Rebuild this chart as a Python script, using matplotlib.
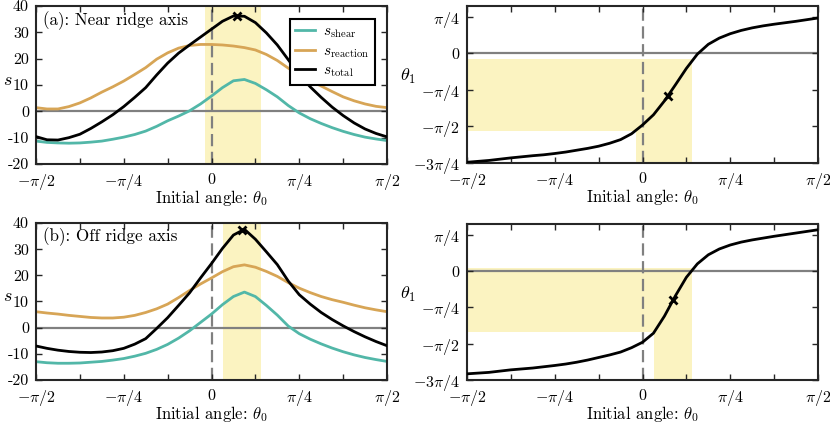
import numpy as np
import matplotlib
matplotlib.use("Agg")
import matplotlib.pyplot as plt

plt.rcParams['font.family'] = 'serif'
plt.rcParams['font.serif'] = ['cmr10']
plt.rcParams['mathtext.fontset'] = 'cm'
plt.rcParams['axes.formatter.use_mathtext'] = True

# ---------------- data (theta0 in units of pi/16) ----------------
u_grid = [-8, -7.5, -7, -6.5, -6, -5.5, -5, -4.5, -4, -3.5, -3, -2.5, -2, -1.5, -1, -0.5,
          0, 0.5, 1, 1.5, 2, 2.5, 3, 3.5, 4, 4.5, 5, 5.5, 6, 6.5, 7, 7.5, 8]

shear_a = [-11.3, -11.8, -12.0, -12.1, -12.0, -11.7, -11.3, -10.6, -9.8, -8.8, -7.5, -5.7,
           -3.6, -1.8, 0.2, 2.8, 5.8, 9.0, 11.6, 12.1, 10.6, 8.2, 5.5, 2.2, -0.6, -2.8,
           -4.6, -6.2, -7.6, -8.8, -9.8, -10.5, -11.1]
reaction_a = [1.4, 0.9, 0.9, 1.8, 3.2, 5.1, 7.3, 9.3, 11.5, 14.0, 16.6, 19.8, 22.2, 24.0,
              25.0, 25.4, 25.4, 25.2, 24.8, 24.2, 23.3, 21.6, 19.3, 16.4, 13.8, 11.6, 9.6,
              7.5, 5.5, 4.0, 2.8, 1.9, 1.4]
total_a = [-9.6, -10.8, -10.9, -10.0, -8.7, -6.5, -4.0, -1.3, 1.8, 5.3, 9.0, 13.8, 18.3,
           22.1, 25.2, 28.2, 31.2, 34.2, 36.2, 36.1, 33.7, 29.8, 25.2, 19.6, 14.0, 9.3, 5.3,
           1.6, -1.6, -4.4, -6.7, -8.4, -9.7]

shear_b = [-13.0, -13.4, -13.6, -13.6, -13.5, -13.2, -12.9, -12.4, -11.8, -10.9, -9.8, -8.3,
           -6.4, -4.0, -1.2, 2.0, 5.2, 8.8, 11.9, 13.6, 11.9, 8.5, 4.8, 0.6, -2.3, -4.4,
           -6.2, -7.8, -9.2, -10.4, -11.4, -12.2, -12.9]
reaction_b = [6.1, 5.6, 5.2, 4.7, 4.3, 3.9, 3.7, 3.7, 4.0, 4.7, 5.8, 7.2, 9.0, 11.5, 14.2,
              16.7, 19.0, 21.4, 23.3, 24.0, 23.1, 21.5, 19.6, 17.2, 15.1, 13.4, 11.9, 10.7,
              9.7, 8.6, 7.6, 6.8, 6.1]
total_b = [-7.0, -7.9, -8.6, -9.1, -9.4, -9.5, -9.3, -8.8, -7.9, -6.3, -4.2, -0.3, 3.8, 8.5,
           13.3, 19.0, 24.5, 30.3, 35.4, 37.6, 33.8, 29.0, 24.1, 17.8, 12.6, 9.0, 5.8, 3.1,
           0.7, -1.5, -3.5, -5.3, -6.9]

# theta1 in units of pi/4
theta1_a = [-2.98, -2.955, -2.93, -2.895, -2.86, -2.83, -2.80, -2.775, -2.74, -2.70, -2.65,
            -2.60, -2.54, -2.46, -2.36, -2.20, -1.96, -1.68, -1.30, -0.86, -0.41, -0.02,
            0.25, 0.42, 0.54, 0.63, 0.70, 0.755, 0.80, 0.84, 0.88, 0.925, 0.97]
theta1_b = [-2.83, -2.81, -2.79, -2.755, -2.72, -2.695, -2.67, -2.635, -2.60, -2.56, -2.51,
            -2.45, -2.38, -2.31, -2.23, -2.11, -1.96, -1.71, -1.24, -0.68, -0.17, 0.20,
            0.45, 0.61, 0.72, 0.80, 0.86, 0.91, 0.96, 1.005, 1.05, 1.095, 1.14]

# optimum markers (theta0 [rad], s, theta1 [rad])
mark_a = (0.23, 36.3, -0.92)
mark_b = (0.273, 37.5, -0.62)

# shaded ranges: theta0 range [rad], theta1 range [rad]
shade0_a = (-0.06, 0.445)
shade1_a = (-1.678, -0.114)
shade0_b = (0.10, 0.445)
shade1_b = (-1.32, 0.074)

panel_titles = ['(a): Near ridge axis', '(b): Off ridge axis']
s_ticks = [-20, -10, 0, 10, 20, 30, 40]
s_ticklabels = ['-20', '-10', '0', '10', '20', '30', '40']
x_ticklabels = [r'$-\pi/2$', r'$-\pi/4$', r'$0$', r'$\pi/4$', r'$\pi/2$']
t_ticklabels = [r'$-3\pi/4$', r'$-\pi/2$', r'$-\pi/4$', r'$0$', r'$\pi/4$']

# ---------------- style ----------------
C_SHEAR = '#52B7A8'
C_REACT = '#D7A556'
C_TOTAL = '#000000'
C_SHADE = '#FBF3C1'
C_GREY = '#808080'
C_FRAME = '#262626'
FS_TICK = 11.5
FS_TXT = 12

fig = plt.figure(figsize=(8.30, 4.23), dpi=100)
W, H = 830, 423


def add_ax(l, r, t, b):
    return fig.add_axes([l / W, 1 - b / H, (r - l) / W, (b - t) / H])


axes = [[add_ax(36, 387, 6, 164), add_ax(467, 818, 6, 163)],
        [add_ax(36, 387, 223, 380), add_ax(467, 818, 224, 380)]]

pi = np.pi
xs = np.array(u_grid) * pi / 16


def style(ax):
    ax.set_xlim(-pi / 2, pi / 2)
    ax.set_xticks(np.arange(-4, 5) * pi / 8)
    ax.set_xticklabels([x_ticklabels[i // 2] if i % 2 == 0 else '' for i in range(9)])
    for sp in ax.spines.values():
        sp.set_linewidth(1.5)
        sp.set_color(C_FRAME)
    ax.tick_params(direction='in', length=4, width=1, top=True, right=True,
                   color=C_FRAME, labelsize=FS_TICK)
    ax.tick_params(axis='x', pad=6)
    ax.tick_params(axis='y', pad=5)
    ax.axvline(0, color=C_GREY, lw=1.6, ls=(0, (5.5, 2.5)), zorder=1)
    ax.set_xlabel(r'Initial angle: $\theta_0$', fontsize=FS_TXT)
    ax.xaxis.set_label_coords(0.5, -0.215)
    ax.xaxis.label.set_va('center')


data = [(shear_a, reaction_a, total_a, theta1_a, mark_a, shade0_a, shade1_a),
        (shear_b, reaction_b, total_b, theta1_b, mark_b, shade0_b, shade1_b)]

for row in range(2):
    sh, re, to, th, mk, s0, s1 = data[row]
    axl, axr = axes[row]

    # left: s curves
    style(axl)
    axl.set_ylim(-20, 40)
    axl.set_yticks(s_ticks)
    axl.set_yticklabels(s_ticklabels)
    axl.axvspan(s0[0], s0[1], color=C_SHADE, lw=0, zorder=0)
    axl.axhline(0, color=C_GREY, lw=1.6, zorder=1)
    l1, = axl.plot(xs, sh, color=C_SHEAR, lw=2, zorder=2, label=r'$s_{\mathrm{shear}}$')
    l2, = axl.plot(xs, re, color=C_REACT, lw=2, zorder=2, label=r'$s_{\mathrm{reaction}}$')
    l3, = axl.plot(xs, to, color=C_TOTAL, lw=2, zorder=3, label=r'$s_{\mathrm{total}}$')
    axl.plot([mk[0]], [mk[1]], marker='x', color='k', ms=6, mew=2, zorder=4)
    axl.set_ylabel(r'$s$', fontsize=FS_TXT + 1, rotation=0)
    axl.yaxis.set_label_coords(-0.08, 0.53)
    axl.yaxis.label.set_va('center')
    axl.text(0.02, 0.91 if row == 0 else 0.915, panel_titles[row], transform=axl.transAxes,
             fontsize=12.3, va='center', ha='left')
    if row == 0:
        leg = axl.legend(handles=[l1, l2, l3], loc='upper right',
                         bbox_to_anchor=(0.966, 0.918), fancybox=False, framealpha=1,
                         edgecolor='k', fontsize=11, handlelength=1.3,
                         borderpad=0.35, labelspacing=0.3, handletextpad=0.55,
                         borderaxespad=0)
        leg.get_frame().set_linewidth(1.5)

    # right: theta1
    style(axr)
    ylo, yhi = -3 * pi / 4, 1.02
    axr.set_ylim(ylo, yhi)
    axr.set_yticks(np.arange(-3, 2) * pi / 4)
    axr.set_yticklabels(t_ticklabels)
    axr.fill_between([-pi / 2, s0[1]], s1[0], s1[1], color=C_SHADE, lw=0, zorder=0)
    axr.fill_between([s0[0], s0[1]], ylo, s1[1], color=C_SHADE, lw=0, zorder=0)
    axr.axhline(0, color=C_GREY, lw=1.6, zorder=1)
    axr.plot(xs, np.array(th) * pi / 4, color='k', lw=2, zorder=3)
    axr.plot([mk[0]], [mk[2]], marker='x', color='k', ms=6, mew=2, zorder=4)
    axr.set_ylabel(r'$\theta_1$', fontsize=FS_TXT + 1, rotation=0)
    axr.yaxis.set_label_coords(-0.168, 0.55)
    axr.yaxis.label.set_va('center')

fig.savefig('out.png', dpi=100)
